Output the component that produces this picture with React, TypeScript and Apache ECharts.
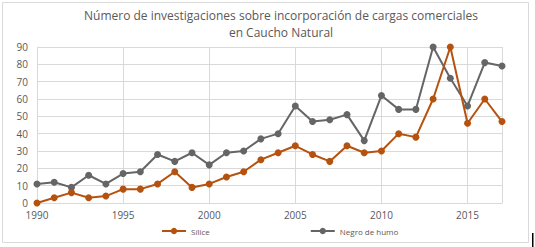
import React, { useEffect, useRef } from "react";
import * as echarts from "echarts";

const years = [1990,1991,1992,1993,1994,1995,1996,1997,1998,1999,2000,2001,2002,2003,2004,2005,2006,2007,2008,2009,2010,2011,2012,2013,2014,2015,2016,2017];
const silice = [0,3,6,3,4,8,8,11,18,9,11,15,18,25,29,33,28,24,33,29,30,40,38,60,90,46,60,47];
const negroDeHumo = [11,12,9,16,11,17,18,28,24,29,22,29,30,37,40,56,47,48,51,36,62,54,54,90,72,56,81,79];
const titleLines = ["Número de investigaciones sobre incorporación de cargas comerciales", "en Caucho Natural"];
const seriesNames = ["Sílice", "Negro de humo"];

export default function App() {
  const ref = useRef<HTMLDivElement>(null);
  useEffect(() => {
    const chart = echarts.init(ref.current!, null, { renderer: "svg" });
    const font = "Open Sans";
    chart.setOption({
      animation: false,
      backgroundColor: "#fff",
      textStyle: { fontFamily: font },
      title: {
        text: titleLines.join("\n"),
        left: 276,
        top: 2,
        textAlign: "center",
        textStyle: { fontSize: 12, fontWeight: "normal", color: "#595959", lineHeight: 17, fontFamily: font },
      },
      legend: {
        top: 222,
        left: 156,
        itemGap: 100,
        itemWidth: 24,
        itemHeight: 8,
        textStyle: { fontSize: 8, color: "#595959", fontFamily: font },
        data: seriesNames,
      },
      grid: { left: 37, right: 33, top: 47, bottom: 44 },
      xAxis: {
        type: "value",
        min: 1990,
        max: 2017,
        interval: 5,
        axisLine: { show: true, lineStyle: { color: "#d9d9d9" } },
        axisTick: { show: false },
        splitLine: { show: true, lineStyle: { color: "#d9d9d9" } },
        axisLabel: { color: "#595959", fontSize: 10, margin: 7, showMaxLabel: false, formatter: (v: number) => String(v) },
      },
      yAxis: {
        type: "value",
        min: 0,
        max: 90,
        interval: 10,
        axisLine: { show: false },
        axisTick: { show: false },
        splitLine: { lineStyle: { color: "#d9d9d9" } },
        axisLabel: { color: "#595959", fontSize: 10, margin: 9 },
      },
      graphic: [
        { type: "rect", shape: { x: 2.5, y: 2.5, width: 526, height: 240 }, style: { fill: "none", stroke: "#d9d9d9", lineWidth: 1 }, silent: true },
        { type: "rect", shape: { x: 532, y: 233, width: 1.5, height: 14 }, style: { fill: "#000" }, silent: true },
      ],
      series: [
        {
          name: seriesNames[0],
          type: "line",
          data: years.map((y, i) => [y, silice[i]]),
          symbol: "circle",
          symbolSize: 7,
          itemStyle: { color: "#b5520f" },
          lineStyle: { width: 2, color: "#b5520f" },
          z: 3,
        },
        {
          name: seriesNames[1],
          type: "line",
          data: years.map((y, i) => [y, negroDeHumo[i]]),
          symbol: "circle",
          symbolSize: 7,
          itemStyle: { color: "#656565" },
          lineStyle: { width: 2, color: "#656565" },
          z: 2,
        },
      ],
    });
    return () => chart.dispose();
  }, []);
  return <div ref={ref} style={{ width: 535, height: 247, position: "absolute", left: 0, top: 0 }} />;
}
